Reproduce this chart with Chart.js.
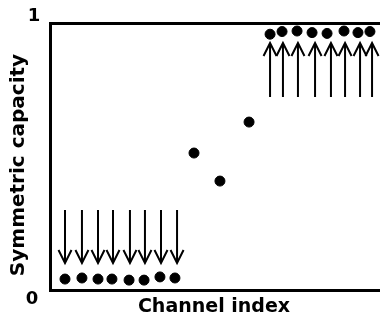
<!DOCTYPE html>
<html>
<head>
<meta charset="utf-8">
<script src="https://cdn.jsdelivr.net/npm/chart.js@4"></script>
<style>
  html, body { margin: 0; padding: 0; background: #fff; }
  #wrap { width: 380px; height: 323px; }
</style>
</head>
<body>
<div id="wrap"><canvas id="grafico" width="380" height="323"></canvas></div>
<script>
// Dados
const lowX = [1.0, 2.13, 3.2, 4.13, 5.27, 6.27, 7.33, 8.33];
const lowY = [0.041, 0.045, 0.041, 0.041, 0.037, 0.037, 0.049, 0.045];
const midX = [9.6, 11.33, 13.27];
const midY = [0.513, 0.408, 0.629];
const highX = [14.67, 15.47, 16.47, 17.47, 18.47, 19.6, 20.53, 21.33];
const highY = [0.958, 0.968, 0.970, 0.964, 0.961, 0.970, 0.964, 0.968];

// Setas: posição x e valores de início/fim
const downArrowX = [1.0, 2.13, 3.2, 4.2, 5.33, 6.33, 7.4, 8.47];
const downArrowFrom = 0.30, downArrowTo = 0.101;
const upArrowX = [14.67, 15.53, 16.53, 17.67, 18.73, 19.67, 20.67, 21.47];
const upArrowFrom = 0.723, upArrowTo = 0.925;

const yTickLabels = ["0", "1"];
const xTitle = "Channel index";
const yTitle = "Symmetric capacity";

const pontos = [];
[[lowX, lowY], [midX, midY], [highX, highY]].forEach(([xs, ys]) => {
    xs.forEach((x, i) => pontos.push({ x: x, y: ys[i] }));
});

const FONT = "'DejaVu Sans', sans-serif";

// Plugin para setas e textos
const extras = {
    id: "extras",
    afterDraw(chart) {
        const ctx = chart.ctx;
        const sx = chart.scales.x, sy = chart.scales.y;
        ctx.save();
        ctx.strokeStyle = "#000";
        ctx.lineWidth = 2;
        const seta = (x, from, to) => {
            const px = sx.getPixelForValue(x);
            const p0 = sy.getPixelForValue(from);
            const p1 = sy.getPixelForValue(to);
            const dir = p1 > p0 ? 1 : -1;
            ctx.beginPath();
            ctx.moveTo(px, p0);
            ctx.lineTo(px, p1);
            ctx.moveTo(px - 6.5, p1 - dir * 13);
            ctx.lineTo(px, p1);
            ctx.lineTo(px + 6.5, p1 - dir * 13);
            ctx.stroke();
        };
        downArrowX.forEach(x => seta(x, downArrowFrom, downArrowTo));
        upArrowX.forEach(x => seta(x, upArrowFrom, upArrowTo));

        ctx.fillStyle = "#000";
        ctx.textAlign = "center";
        ctx.textBaseline = "middle";
        ctx.font = "700 18px " + FONT;
        ctx.fillText(yTickLabels[0], 32, sy.getPixelForValue(0) + 9);
        ctx.fillText(yTickLabels[1], 34, sy.getPixelForValue(1) - 7);

        ctx.font = "700 19px " + FONT;
        ctx.fillText(xTitle, 214, 307);
        ctx.translate(19, 165);
        ctx.rotate(-Math.PI / 2);
        ctx.font = "700 20px " + FONT;
        ctx.fillText(yTitle, 0, 0);
        ctx.restore();
    }
};

const eixo = {
    grid: { display: false, drawTicks: false, tickLength: 0 },
    ticks: { display: false, padding: 0 },
    border: { display: true, color: "#000", width: 3 }
};

new Chart(document.getElementById("grafico"), {
    type: "scatter",
    data: {
        datasets: [{
            data: pontos,
            backgroundColor: "#000",
            borderColor: "#000",
            pointRadius: 5,
            pointHoverRadius: 5
        }]
    },
    options: {
        responsive: false,
        animation: false,
        events: [],
        layout: { autoPadding: false, padding: { left: 50, top: 23, right: 0, bottom: 33 } },
        plugins: { legend: { display: false }, tooltip: { enabled: false } },
        scales: {
            x: { type: "linear", min: 0, max: 22, ...eixo },
            x2: { type: "linear", position: "top", min: 0, max: 22, ...eixo },
            y: { min: 0, max: 1, ...eixo }
        }
    },
    plugins: [extras]
});
</script>
</body>
</html>
